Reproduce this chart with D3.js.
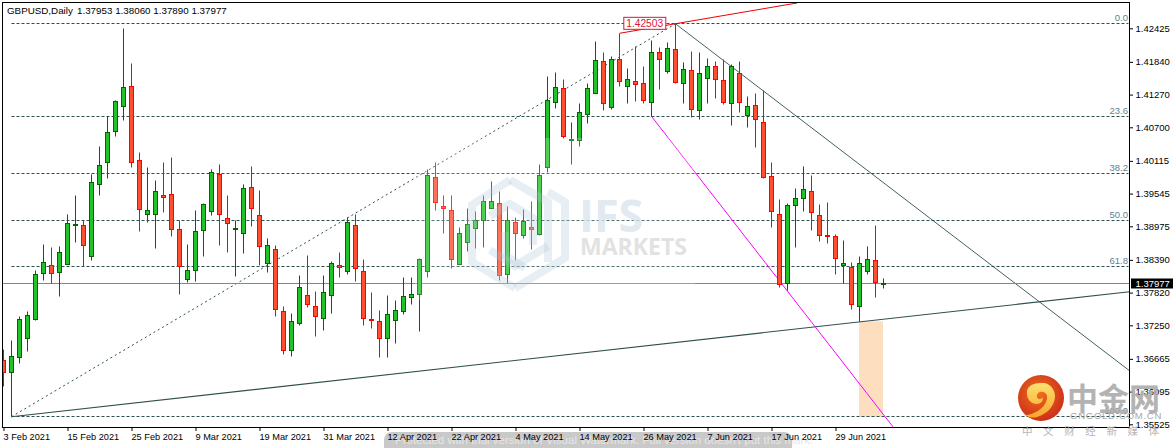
<!DOCTYPE html>
<html><head><meta charset="utf-8">
<style>html,body{margin:0;padding:0;background:#fff;overflow:hidden}svg{display:block}text{font-family:"Liberation Sans",sans-serif}</style>
<script src="https://cdn.jsdelivr.net/npm/d3@7"></script>
</head><body><div id="chart"></div>
<script>
const symbol = "GBPUSD,Daily";
const dateTicks = ["3 Feb 2021","15 Feb 2021","25 Feb 2021","9 Mar 2021","19 Mar 2021","31 Mar 2021","12 Apr 2021","22 Apr 2021","4 May 2021","14 May 2021","26 May 2021","7 Jun 2021","17 Jun 2021","29 Jun 2021"];
const dateTickIndex = [0,8,16,24,32,40,48,56,64,72,80,88,96,104];
const priceTicks = [1.42425,1.41840,1.41270,1.40700,1.40115,1.39545,1.38975,1.38390,1.37820,1.37250,1.36665,1.36095,1.35525];
const open = [1.36628,1.36431,1.36685,1.37023,1.37347,1.38156,1.38295,1.38173,1.38313,1.38985,1.38992,1.38445,1.39700,1.40090,1.40623,1.41066,1.41414,1.40125,1.39177,1.39177,1.39515,1.39532,1.38922,1.38051,1.38208,1.38905,1.39229,1.39886,1.39114,1.38916,1.38853,1.39654,1.39166,1.38330,1.38574,1.37494,1.36814,1.37284,1.37772,1.37581,1.37372,1.37772,1.38295,1.38191,1.38992,1.38191,1.37354,1.37319,1.37023,1.37337,1.37494,1.37738,1.37790,1.38191,1.39829,1.39323,1.39254,1.38313,1.38696,1.38933,1.39079,1.39288,1.39376,1.38138,1.39044,1.38818,1.38957,1.38835,1.40003,1.41135,1.41379,1.40466,1.40473,1.40926,1.41292,1.41850,1.41048,1.41885,1.41407,1.41501,1.41466,1.41128,1.42007,1.41669,1.42059,1.41466,1.41693,1.40996,1.41547,1.41763,1.41519,1.41118,1.41641,1.40902,1.41083,1.40787,1.39846,1.39184,1.37981,1.39341,1.39463,1.39585,1.39166,1.38811,1.38801,1.38288,1.38260,1.37581,1.38191,1.38382,1.37953];
const high = [1.36837,1.36993,1.37412,1.37499,1.38213,1.38666,1.38597,1.38631,1.39189,1.39520,1.39072,1.39869,1.40374,1.40891,1.41175,1.42413,1.41820,1.40264,1.39991,1.39781,1.40078,1.40177,1.39072,1.38666,1.39259,1.39376,1.39956,1.40060,1.39503,1.39072,1.39712,1.40025,1.39607,1.38766,1.38644,1.37586,1.37459,1.38121,1.38469,1.37847,1.38121,1.38365,1.38522,1.39132,1.39184,1.38400,1.37825,1.37511,1.37772,1.37690,1.38086,1.38086,1.38422,1.39968,1.40090,1.39503,1.39503,1.38957,1.39288,1.39241,1.39520,1.39764,1.39585,1.39323,1.39132,1.39271,1.39410,1.40055,1.41588,1.41658,1.41536,1.40787,1.41118,1.41466,1.42198,1.42012,1.41930,1.42338,1.41728,1.42116,1.41768,1.42204,1.42082,1.42181,1.42503,1.41832,1.42024,1.42007,1.41907,1.41850,1.41885,1.41798,1.41850,1.41240,1.41292,1.41345,1.40090,1.39445,1.39376,1.39637,1.40020,1.39863,1.39358,1.39393,1.38835,1.38731,1.38347,1.38452,1.38626,1.38992,1.38060];
const low = [1.36180,1.35657,1.36581,1.36790,1.37325,1.38022,1.37987,1.37748,1.38309,1.38689,1.38283,1.38387,1.39508,1.39804,1.40536,1.40815,1.39996,1.38881,1.39037,1.38584,1.39212,1.38793,1.37783,1.37992,1.38009,1.38445,1.39159,1.38637,1.38515,1.38096,1.38497,1.38968,1.38300,1.38166,1.37400,1.36737,1.36702,1.37243,1.37556,1.37051,1.37156,1.37452,1.38079,1.38131,1.38009,1.37243,1.37190,1.36685,1.36685,1.36929,1.37434,1.37609,1.37150,1.38086,1.39259,1.38846,1.38236,1.38309,1.38532,1.38584,1.38602,1.39285,1.38027,1.37981,1.38375,1.38759,1.38567,1.38818,1.39921,1.41036,1.40508,1.40055,1.40362,1.40770,1.41289,1.40989,1.41013,1.41407,1.41111,1.41146,1.41111,1.40891,1.41355,1.41634,1.41460,1.41111,1.40867,1.40832,1.41111,1.41198,1.41094,1.40728,1.40954,1.40693,1.40344,1.39816,1.38950,1.37912,1.37860,1.38602,1.39229,1.38898,1.38706,1.38672,1.38131,1.37981,1.37521,1.37319,1.38138,1.37738,1.37890];
const close = [1.36431,1.36709,1.37354,1.37424,1.38138,1.38347,1.38156,1.38522,1.39027,1.39010,1.38644,1.39741,1.40038,1.40613,1.41153,1.41397,1.40083,1.39271,1.39254,1.39585,1.39473,1.38922,1.38278,1.38208,1.38888,1.39358,1.39916,1.39184,1.39027,1.38940,1.39637,1.39288,1.38626,1.38644,1.37528,1.36814,1.37319,1.37912,1.37616,1.37406,1.37825,1.38330,1.38260,1.39044,1.38243,1.37372,1.37330,1.37023,1.37441,1.37511,1.37755,1.37790,1.38400,1.39863,1.39393,1.39281,1.38400,1.38853,1.39010,1.39079,1.39410,1.39410,1.38121,1.39079,1.38853,1.39062,1.38922,1.39863,1.41170,1.41397,1.40543,1.40491,1.40961,1.41379,1.41867,1.41118,1.41885,1.41498,1.41536,1.41442,1.41163,1.42007,1.41878,1.42076,1.41477,1.41710,1.41006,1.41641,1.41763,1.41529,1.41128,1.41763,1.41128,1.41066,1.40839,1.39829,1.39236,1.37964,1.39341,1.39463,1.39619,1.39219,1.38818,1.38793,1.38417,1.38330,1.37616,1.38330,1.38400,1.37999,1.37977];
const fibHigh = 1.42503, fibLow = 1.35657;
const fibLevels = [0,23.6,38.2,50,61.8,100];
// trend lines: [bar index, price] pairs
const trendMain = [[1,1.35657],[140.75,1.37835]];
const trendDown = [[84,1.42503],[140.75,1.36459]];
const trendFib = [[1,1.35657],[84,1.42503]];
const trendMagenta = [[81,1.40891],[111.2,1.35478]];
const trendRed = [[77,1.42338],[99.2,1.42866]];
const zone = {from:107,to:110,top:1.37319,bottom:1.35657};
const W=1175,H=448,L=2.5,T=2.5,R=1129.5,B=427.5;
const x=d3.scaleLinear().domain([0,110]).range([3.5,883.5]);
const y=d3.scaleLinear().domain([1.42425,1.35525]).range([28.3,424.3]);
const py=v=>Math.round(y(v)-.5)+.5;
const svg=d3.select("#chart").append("svg").attr("width",W).attr("height",H);
const defs=svg.append("defs");
defs.append("clipPath").attr("id","plot").append("rect").attr("x",L).attr("y",T).attr("width",R-L).attr("height",B-T);
const g1=defs.append("radialGradient").attr("id","disc").attr("cx","45%").attr("cy","40%").attr("r","65%");
g1.append("stop").attr("offset","0%").attr("stop-color","#f0701c");
g1.append("stop").attr("offset","100%").attr("stop-color","#c92a18");
const g2=defs.append("linearGradient").attr("id","swirl").attr("x1","0").attr("y1","0").attr("x2","0").attr("y2","1");
g2.append("stop").attr("offset","0%").attr("stop-color","#ffe070");
g2.append("stop").attr("offset","100%").attr("stop-color","#f7a52a");
const plot=svg.append("g").attr("clip-path","url(#plot)");
// zone
plot.append("rect").attr("x",x(zone.from)-.5).attr("width",x(zone.to)-x(zone.from)).attr("y",y(zone.top)).attr("height",y(zone.bottom)-y(zone.top)).attr("fill","#fddfbf");
// fib levels
const fibVal=l=>fibHigh-(fibHigh-fibLow)*l/100;
plot.selectAll("line.fib").data(fibLevels).join("line").attr("x1",x(1)).attr("x2",R-1)
 .attr("y1",d=>py(fibVal(d))).attr("y2",d=>py(fibVal(d))).attr("stroke","#2f4f4f").attr("stroke-width",1).attr("stroke-dasharray","3 2");
const ln=d3.line().x(d=>x(d[0])).y(d=>y(d[1]));
const path=(d,c,w,da)=>plot.append("path").attr("d",ln(d)).attr("fill","none").attr("stroke",c).attr("stroke-width",w).attr("stroke-dasharray",da||null);
path(trendFib,"#2f4f4f",1,"2 3");
path(trendMain,"#2f4f4f",1.1);
path(trendDown,"#2f4f4f",.9);
path(trendMagenta,"#ff00ff",1);
path(trendRed,"#ee0000",1);
// bid line
plot.append("line").attr("x1",L).attr("x2",R).attr("y1",py(close[110])).attr("y2",py(close[110])).attr("stroke","#778899").attr("stroke-width",1);
// candles
const idx=d3.range(open.length);
const up=i=>close[i]>=open[i];
plot.selectAll("line.w").data(idx).join("line").attr("x1",x).attr("x2",x).attr("y1",i=>py(high[i])).attr("y2",i=>py(low[i]))
 .attr("stroke",i=>up(i)?"#006400":"#ff0000").attr("stroke-width",1);
plot.selectAll("rect.b").data(idx).join("rect").attr("x",i=>x(i)-2).attr("width",4)
 .attr("y",i=>py(Math.max(open[i],close[i]))).attr("height",i=>Math.max(1,py(Math.min(open[i],close[i]))-py(Math.max(open[i],close[i]))))
 .attr("fill",i=>up(i)?"#22c32a":"#ff5033").attr("stroke",i=>up(i)?"#006400":"#ff0000").attr("stroke-width",1);
// fib labels
svg.selectAll("text.fl").data(fibLevels).join("text").attr("x",R-1.5).attr("y",d=>py(fibVal(d))-2.5).attr("text-anchor","end")
 .attr("font-size",9.5).attr("fill","#5f7f96").text(d=>d.toFixed(1));
// price label box
const lx=x(77)+4.3,ly=y(fibHigh);
svg.append("rect").attr("x",lx).attr("y",ly-6.5).attr("width",42).attr("height",12).attr("fill","#fff").attr("stroke","#dc143c");
svg.append("text").attr("x",lx+2.5).attr("y",ly+3.5).attr("font-size",10.2).attr("fill","#dc143c").text(fibHigh.toFixed(5));
// IFS watermark
const wm=svg.append("g");
wm.append("rect").attr("x",415).attr("y",138).attr("width",280).attr("height",162).attr("fill","#fff").attr("opacity",.2);
const hex=[
 "M510 180 L548 202 L548 262","M472 226 L472 205 L510 180","M490 216 L510 204 L533 218 L533 245",
 "M472 226 L472 262 L515 288","M515 288 L565 258 L565 202 L548 192","M490 250 L515 266 L548 246","M505 232 L505 255 L525 268"];
wm.selectAll("path").data(hex).join("path").attr("d",d=>d).attr("fill","none").attr("stroke","#a9c4d6").attr("stroke-width",8).attr("opacity",.27);
wm.append("text").attr("x",579).attr("y",232).attr("font-size",45).attr("font-weight",700).attr("fill","#d6e3ec").attr("opacity",.75).style("font-family","'Open Sans',sans-serif").text("IFS");
wm.append("text").attr("x",580).attr("y",255).attr("font-size",23).attr("font-weight",700).attr("fill","#dcdcdc").attr("opacity",.8).style("font-family","'Open Sans',sans-serif").text("MARKETS");
// frame
svg.append("rect").attr("x",L).attr("y",T).attr("width",R-L).attr("height",B-T).attr("fill","none").attr("stroke","#000");
// trial strip
svg.append("rect").attr("x",384).attr("y",432).attr("width",408).attr("height",26).attr("rx",8).attr("fill","#c9c9c9");
svg.append("text").attr("x",395).attr("y",444).attr("font-size",11.5).attr("fill","#e6e6e6").text("Protected with trial version of Visual Watermark. Full version doesn't put this mark.");
// axes
const ax=svg.append("g").attr("transform",`translate(0,${B})`).call(d3.axisBottom(x).tickValues(dateTickIndex).tickSize(3.5).tickPadding(2).tickFormat((d,i)=>dateTicks[i]));
ax.select(".domain").remove();
ax.selectAll("text").attr("text-anchor","start").attr("dx",-.5).attr("font-size",9.2).attr("fill","#000").style("font-family","'Liberation Sans',sans-serif");
const ay=svg.append("g").attr("transform",`translate(${R},0)`).call(d3.axisRight(y).tickValues(priceTicks).tickSize(3.5).tickPadding(2.5).tickFormat(d3.format(".5f")));
ay.select(".domain").remove();
ay.selectAll("text").attr("font-size",9.5).attr("fill","#000").style("font-family","'Liberation Sans',sans-serif");
// title
const fmt=d3.format(".5f");
svg.append("text").attr("x",7).attr("y",14).attr("font-size",9.8).attr("fill","#000").text(symbol);
svg.append("text").attr("x",77).attr("y",14).attr("font-size",9.8).attr("fill","#000").text([open[110],high[110],low[110],close[110]].map(fmt).join(" "));
// current price tag
svg.append("rect").attr("x",R+1.5).attr("y",py(close[110])-5).attr("width",42).attr("height",10).attr("fill","#000");
svg.append("text").attr("x",R+6).attr("y",py(close[110])+3.5).attr("font-size",9.5).attr("fill","#fff").text(fmt(close[110]));
// gold logo
const lg=svg.append("g").attr("transform","translate(1041,398)");
lg.append("circle").attr("r",23).attr("fill","url(#disc)");
lg.append("path").attr("d","M-14 -4 C-15 -14 -4 -15 1 -15 C7 -16 14 -10 14 -2 C14 8 6 16 -4 19 C-9 20.5 -13 19 -16 17 C-8 17 4 11 6 1 C7 -5 2 -7 -1 -6 C-5 -5 -5 0 -2 1 C0 1.5 1 0 1 -1 C3 2 0 6 -4 6 C-10 6 -14 1 -14 -4Z").attr("fill","url(#swirl)");
svg.append("text").attr("x",1067).attr("y",410).attr("font-size",31).attr("font-weight",700).attr("fill","#adadad").attr("opacity",.92).style("font-family","'Noto Sans CJK SC'").text("中金网");
svg.append("text").attr("x",1070).attr("y",419).attr("font-size",9.5).attr("letter-spacing",.75).attr("fill","#a8a8a8").text("GNGOLD.COM.CN");
svg.append("text").attr("x",1022).attr("y",435).attr("font-size",10.5).attr("letter-spacing",10.6).attr("fill","#b5b5b5").style("font-family","'Noto Sans CJK SC'").text("中文财经新媒体");
</script></body></html>
